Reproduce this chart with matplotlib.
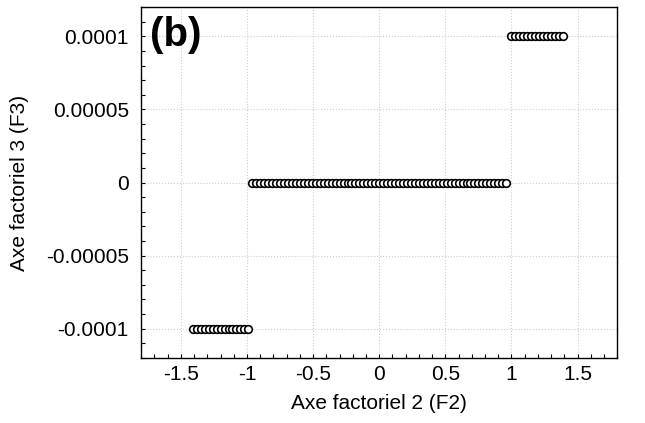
import numpy as np
import matplotlib.pyplot as plt
from matplotlib.ticker import MultipleLocator, FixedLocator, FixedFormatter

plt.rcParams['font.family'] = ['Liberation Sans', 'DejaVu Sans']
plt.rcParams['axes.unicode_minus'] = False

# F2 coordinates of the three groups of points (F3 = -1e-4, 0, 1e-4)
x_low = [-1.41, -1.38, -1.35, -1.32, -1.29, -1.26, -1.23, -1.20, -1.17, -1.14,
         -1.11, -1.08, -1.05, -1.02, -0.99]
x_mid = [-0.96, -0.93, -0.90, -0.87, -0.84, -0.81, -0.78, -0.75, -0.72, -0.69,
         -0.66, -0.63, -0.60, -0.57, -0.54, -0.51, -0.48, -0.45, -0.42, -0.39,
         -0.36, -0.33, -0.30, -0.27, -0.24, -0.21, -0.18, -0.15, -0.12, -0.09,
         -0.06, -0.03, 0.00, 0.03, 0.06, 0.09, 0.12, 0.15, 0.18, 0.21,
         0.24, 0.27, 0.30, 0.33, 0.36, 0.39, 0.42, 0.45, 0.48, 0.51,
         0.54, 0.57, 0.60, 0.63, 0.66, 0.69, 0.72, 0.75, 0.78, 0.81,
         0.84, 0.87, 0.90, 0.93, 0.96]
x_high = [1.00, 1.03, 1.06, 1.09, 1.12, 1.15, 1.18, 1.21, 1.24, 1.27,
          1.30, 1.33, 1.36, 1.39]
y_low, y_mid, y_high = -0.0001, 0.0, 0.0001

xticks = [-1.5, -1, -0.5, 0, 0.5, 1, 1.5]
xtick_labels = ['-1.5', '-1', '-0.5', '0', '0.5', '1', '1.5']
yticks = [-0.0001, -0.00005, 0, 0.00005, 0.0001]
ytick_labels = ['-0.0001', '-0.00005', '0', '0.00005', '0.0001']

fig = plt.figure(figsize=(6.45, 4.23), dpi=100)
ax = fig.add_axes([0.219, 0.154, 0.738, 0.829])

xs = x_low + x_mid + x_high
ys = [y_low] * len(x_low) + [y_mid] * len(x_mid) + [y_high] * len(x_high)
for x, y in zip(xs, ys):
    ax.plot(x, y, 'o', ms=5.5, mfc='white', mec='black', mew=1.2, zorder=3)

ax.set_xlim(-1.8, 1.8)
ax.set_ylim(-0.00012, 0.00012)
ax.xaxis.set_major_locator(FixedLocator(xticks))
ax.xaxis.set_major_formatter(FixedFormatter(xtick_labels))
ax.xaxis.set_minor_locator(MultipleLocator(0.1))
ax.yaxis.set_major_locator(FixedLocator(yticks))
ax.yaxis.set_major_formatter(FixedFormatter(ytick_labels))
ax.yaxis.set_minor_locator(MultipleLocator(0.00001))

ax.tick_params(which='both', direction='in', length=3, width=0.8, labelsize=15)
ax.tick_params(axis='x', pad=5)
ax.tick_params(axis='y', pad=9)
ax.grid(True, which='major', color='#cccccc', linestyle=':', linewidth=0.8)
for s in ax.spines.values():
    s.set_linewidth(1.0)

ax.set_xlabel('Axe factoriel 2 (F2)', fontsize=15, labelpad=7)
ax.set_ylabel('Axe factoriel 3 (F3)', fontsize=15, labelpad=12)
ax.text(0.018, 0.975, '(b)', transform=ax.transAxes, fontsize=29,
        fontweight='bold', va='top', ha='left')

fig.savefig('out.png', dpi=100)
